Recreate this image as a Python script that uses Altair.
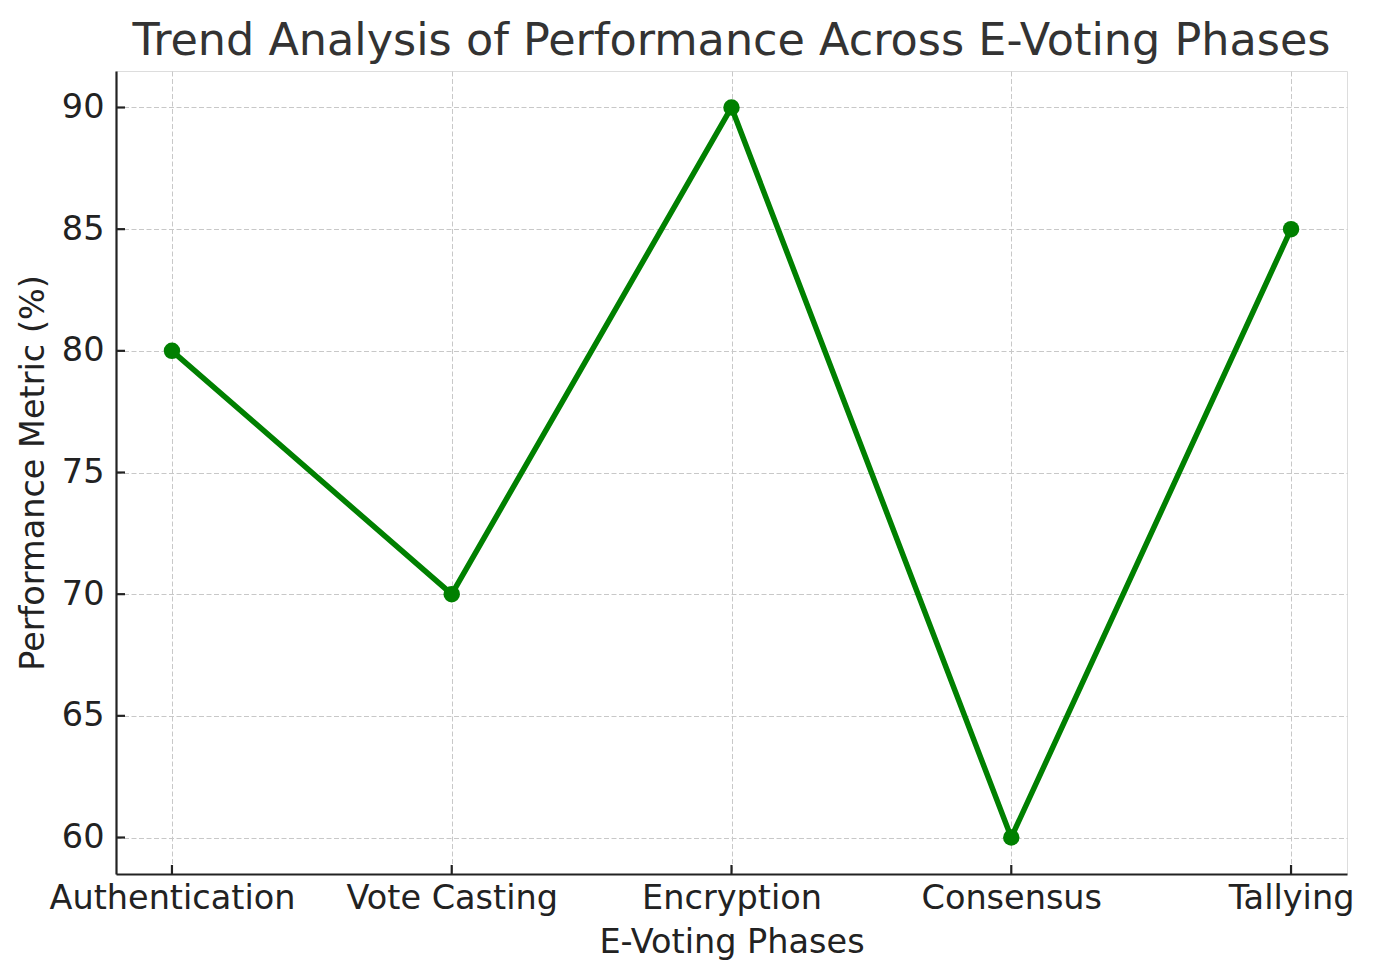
import altair as alt
import pandas as pd

phases = ["Authentication", "Vote Casting", "Encryption", "Consensus", "Tallying"]
performance = [80, 70, 90, 60, 85]
y_ticks = [60, 65, 70, 75, 80, 85, 90]

df = pd.DataFrame({"phase": phases, "value": performance})
ticks_df = pd.DataFrame({"t": y_ticks})

FONT = "DejaVu Sans"
W, H = 1231, 803
FS = 33.5

x_scale = alt.Scale(type="point", domain=phases, padding=0.2)
y_scale = alt.Scale(domain=[58.5, 91.5], nice=False, zero=False)

x_enc = alt.X(
    "phase:N", scale=x_scale, sort=phases, title="E-Voting Phases",
    axis=alt.Axis(
        labelAngle=0, ticks=False, labelPadding=8, labelFontSize=FS, titleFontSize=FS,
        labelLimit=0, titleFontWeight="normal",
        labelColor="#222222", titleColor="#222222", labelFont=FONT, titleFont=FONT,
        domainColor="#222222", domainWidth=2.2, titlePadding=12,
        grid=True, gridColor="#c8c8c8", gridDash=[5, 2.5], gridWidth=1,
    ),
)
y_enc = alt.Y(
    "value:Q", scale=y_scale, title="Performance Metric (%)",
    axis=alt.Axis(
        values=y_ticks, ticks=False, labelPadding=12, labelFontSize=FS, titleFontSize=FS,
        labelLimit=0, titleFontWeight="normal",
        labelColor="#222222", titleColor="#222222", labelFont=FONT, titleFont=FONT,
        domainColor="#222222", domainWidth=2.2, titlePadding=11,
        grid=True, gridColor="#c8c8c8", gridDash=[5, 2.5], gridWidth=1,
    ),
)

line = alt.Chart(df).mark_line(color="#008000", strokeWidth=5.5).encode(x=x_enc, y=y_enc)
points = alt.Chart(df).mark_circle(color="#008000", size=270, opacity=1).encode(
    x=alt.X("phase:N", scale=x_scale, sort=phases),
    y=alt.Y("value:Q", scale=y_scale),
)

ytick_marks = alt.Chart(ticks_df).mark_rule(color="#222222", strokeWidth=2.2).encode(
    y=alt.Y("t:Q", scale=y_scale),
    x=alt.value(0),
    x2=alt.value(9),
)
xtick_marks = alt.Chart(df).mark_rule(color="#222222", strokeWidth=2.2).encode(
    x=alt.X("phase:N", scale=x_scale, sort=phases),
    y=alt.value(H),
    y2=alt.value(H - 9),
)

chart = alt.layer(line, points, ytick_marks, xtick_marks).properties(
    width=W,
    height=H,
    title=alt.TitleParams(
        "Trend Analysis of Performance Across E-Voting Phases",
        fontSize=44.5, font=FONT, fontWeight="normal", color="#333333",
        anchor="middle", offset=7,
    ),
    autosize=alt.AutoSizeParams(type="none"),
    padding={"left": 108, "top": 63, "right": 10, "bottom": 90},
).configure_view(stroke=None).configure(background="white")

chart.save("out.html", embed_options={"renderer": "svg", "actions": False})
